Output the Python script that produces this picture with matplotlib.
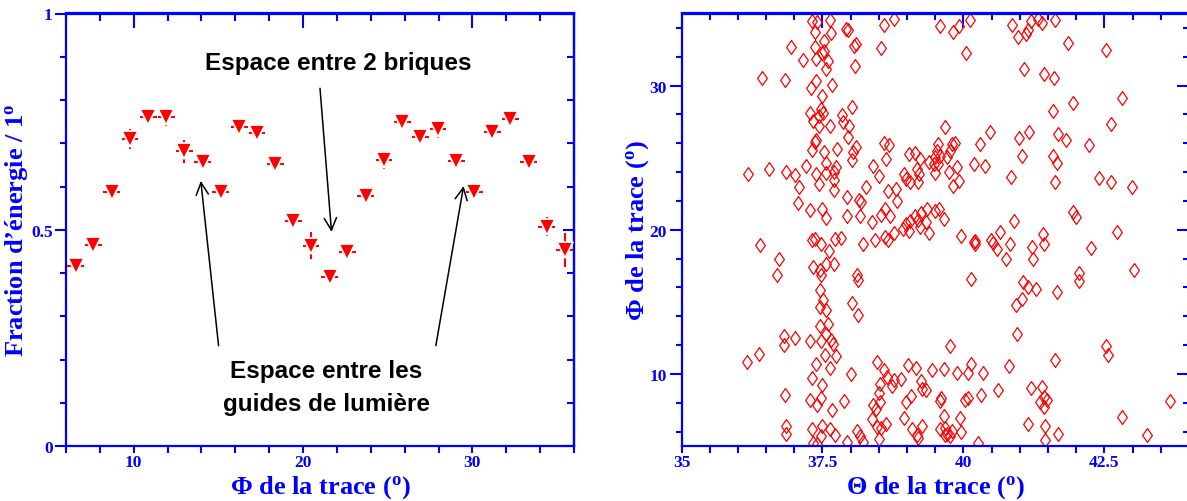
import matplotlib
matplotlib.use("Agg")
import matplotlib.pyplot as plt
from matplotlib.ticker import MultipleLocator, FixedLocator, FuncFormatter

plt.rcParams['mathtext.fontset'] = 'custom'
plt.rcParams['mathtext.rm'] = 'Liberation Serif:bold'
plt.rcParams['mathtext.bf'] = 'Liberation Serif:bold'
plt.rcParams['mathtext.it'] = 'Liberation Serif:bold'

# ---------------- data: left panel ----------------
phi_bins = [6.57, 7.61, 8.70, 9.78, 10.86, 11.91, 12.99, 14.07, 15.14, 16.22,
            17.28, 18.35, 19.43, 20.47, 21.58, 22.62, 23.70, 24.78, 25.85, 26.91,
            27.97, 29.05, 30.10, 31.18, 32.24, 33.33, 34.39, 35.46]
energy_frac = [0.416, 0.465, 0.588, 0.709, 0.761, 0.761, 0.681, 0.657, 0.588, 0.738,
               0.723, 0.653, 0.520, 0.463, 0.391, 0.449, 0.578, 0.661, 0.750, 0.714,
               0.732, 0.659, 0.587, 0.725, 0.757, 0.657, 0.507, 0.453]
energy_err = [0.012, 0.012, 0.015, 0.023, 0.017, 0.021, 0.026, 0.016, 0.015, 0.015,
              0.018, 0.020, 0.017, 0.031, 0.015, 0.013, 0.015, 0.021, 0.019, 0.019,
              0.020, 0.015, 0.014, 0.017, 0.016, 0.018, 0.022, 0.039]
phi_halfwidth = 0.5

# ---------------- data: right panel ----------------
theta_trace = [
    37.31, 37.40, 37.63, 37.37, 37.65, 37.92, 37.95, 38.59, 38.76,
    36.94, 37.36, 37.52, 37.53, 37.50, 38.06, 38.09, 38.53,
    37.15, 37.38, 37.59, 37.57, 38.07,
    36.43, 36.83, 37.30, 37.39, 37.67, 37.50,
    38.03, 37.28, 37.48, 37.44, 37.51, 37.34, 37.85, 37.87, 37.64, 37.44, 37.97, 37.96,
    37.38, 37.36, 37.32, 37.53, 37.76, 38.09, 38.05, 38.02,
    38.59, 38.68, 38.63, 39.04, 39.14, 39.23, 39.39,
    37.56, 37.74, 37.70, 37.20, 38.39, 38.50,
    36.18, 36.56, 36.85, 37.01, 37.38, 37.44, 37.57, 37.70, 37.71, 37.09,
    38.94, 38.99, 39.05, 39.18, 39.22, 39.19,
    38.27, 38.67, 38.80,
    37.06, 37.27, 37.50, 37.57, 37.93, 38.15, 38.18, 37.93, 38.17, 38.37, 38.53, 38.61, 38.70, 38.83,
    38.99, 39.05, 39.14, 39.20, 39.24, 39.35, 39.34,
    39.59, 39.81, 39.93, 40.11, 40.05, 40.86, 40.97, 41.11, 41.15, 41.20, 41.32, 41.39, 41.63, 41.86, 42.52,
    41.07, 41.42, 41.60, 41.95, 42.82, 41.59, 42.62,
    39.68, 40.47, 40.98, 41.16, 41.67, 41.82, 42.22, 40.30,
    39.55, 39.53, 39.49, 39.59, 39.71, 39.80, 39.85, 39.77, 39.47, 39.55, 39.74, 39.88, 39.49, 39.81, 39.93,
    40.18, 40.39, 40.85, 41.03, 41.58, 41.66, 41.62, 42.40, 42.61, 42.99,
    39.49, 39.57, 39.65, 40.89, 41.94, 41.99,
    36.40, 36.73, 36.70, 37.32, 37.37, 37.47, 37.62, 37.72, 37.83, 38.22, 38.44, 38.61, 38.67, 38.76, 38.93, 39.04, 39.23, 39.39,
    37.33, 37.46, 37.47, 37.56, 37.71, 38.12, 38.13,
    37.46, 37.51, 37.46, 37.56, 38.03, 38.13,
    37.46, 37.60, 37.56, 37.66, 37.69, 37.47, 37.28, 36.82, 36.81, 37.01,
    36.16, 36.37, 37.55, 37.74, 37.38, 37.64, 38.01, 37.31, 37.49, 37.47, 37.40, 37.28, 37.67, 37.88, 36.84,
    38.46, 38.59, 38.64, 38.52, 38.73, 38.77, 38.89, 38.51, 38.40, 38.45, 38.52,
    39.02, 39.16, 39.45, 39.24, 39.27, 39.34, 39.07, 38.99, 38.95,
    38.38, 38.46, 38.54, 38.62, 38.51, 39.26, 39.09, 39.17, 39.20,
    36.86, 36.85, 37.31, 37.50, 37.47, 37.34, 37.40, 37.63, 37.73, 37.93, 38.12, 38.16, 38.22,
    39.95, 40.20, 40.21, 40.19, 40.49, 40.52, 40.65, 40.59, 40.82, 40.76, 41.21, 41.24, 41.41, 41.43, 42.27, 42.72,
    40.14, 41.05, 41.15, 41.29, 41.66, 42.05, 42.05, 43.03, 40.94, 41.04, 40.95, 39.77, 42.53, 42.57,
    39.65, 39.88, 40.08, 40.13, 40.34, 40.81, 41.62,
    39.61, 39.59, 40.02, 40.08, 40.32, 40.61, 41.20, 41.39, 41.42, 41.48, 41.36, 41.42, 43.67,
    39.65, 39.94, 42.82,
    39.59, 39.67, 39.71, 39.77, 39.68, 39.80, 39.96,
    40.26, 41.15, 41.45, 41.45, 41.67, 43.26,
]
phi_trace = [
    34.51, 34.39, 34.56, 33.75, 33.65, 33.93, 33.89, 34.23, 34.63,
    32.66, 32.66, 33.12, 32.43, 32.27, 32.73, 32.89, 32.59,
    31.80, 31.85, 31.73, 31.16, 31.39,
    30.53, 30.39, 29.84, 30.30, 30.02, 29.26,
    28.50, 28.10, 28.38, 27.87, 28.10, 27.57, 27.96, 27.45, 27.18, 27.22, 27.18, 26.46,
    26.25, 26.07, 25.56, 25.37, 25.60, 25.72, 25.42, 24.84,
    26.02, 25.88, 24.91, 25.26, 25.33, 24.91, 24.73,
    24.61, 24.33, 23.98, 24.45, 24.40, 23.75,
    23.89, 24.22, 23.98, 23.80, 23.89, 23.18, 23.92, 23.48, 22.78, 22.99,
    23.87, 23.52, 23.29, 24.22, 23.87, 23.34,
    22.94, 22.71, 22.83,
    21.86, 21.35, 21.44, 20.79, 22.25, 22.09, 21.90, 20.98, 20.98, 20.52, 21.02, 21.44, 20.98, 22.02,
    20.40, 20.63, 20.98, 20.70, 21.16, 21.44, 20.52,
    34.12, 33.70, 34.16, 34.58, 32.24, 34.21, 33.35, 33.58, 33.89, 34.51, 34.63, 34.35, 34.58, 32.94, 32.50,
    31.18, 30.79, 30.51, 28.82, 29.12, 28.24, 27.34,
    27.13, 26.81, 26.39, 26.76, 26.62, 26.23, 25.88, 25.93,
    25.97, 25.49, 25.03, 25.14, 25.03, 25.95, 26.02, 25.49, 24.56, 24.56, 24.03, 24.33, 23.94, 23.06, 23.41,
    24.56, 24.40, 23.68, 25.10, 25.10, 24.63, 23.29, 23.57, 23.34, 22.99,
    21.32, 21.44, 20.75, 20.63, 21.21, 20.86,
    18.96, 17.99, 16.88, 19.26, 19.38, 19.03, 18.52, 19.38, 19.43, 18.99, 19.26, 19.50, 19.26, 19.77, 20.07, 19.91, 20.19, 19.77,
    17.41, 17.18, 16.88, 17.65, 17.65, 16.88, 16.49,
    15.79, 15.15, 14.64, 14.41, 14.92, 14.11,
    13.30, 13.48, 12.79, 12.33, 12.09, 12.28, 12.28, 12.65, 12.03, 12.49,
    10.82, 11.35, 11.28, 11.22, 10.71, 10.43, 10.01, 9.73, 9.20, 8.35, 7.86, 8.16, 7.47, 8.09, 8.55,
    10.82, 10.24, 9.78, 9.32, 9.13, 9.60, 9.62, 8.69, 7.81, 7.58, 8.05,
    10.59, 10.43, 10.24, 9.50, 8.97, 8.86, 8.44, 8.05, 6.96,
    6.89, 6.31, 6.24, 6.54, 5.50, 6.38, 6.20, 5.73, 5.57,
    6.38, 5.85, 6.20, 6.38, 5.66, 5.20, 5.15, 6.15, 5.73, 5.27, 6.03, 5.66, 5.27,
    19.54, 19.22, 19.03, 19.13, 19.31, 19.08, 19.84, 18.69, 18.99, 17.99, 18.80, 17.95, 19.68, 19.03, 18.76, 19.82,
    16.60, 16.37, 16.03, 15.87, 15.68, 17.02, 16.42, 17.23, 14.80, 15.17, 12.74, 11.91, 11.91, 11.28,
    10.36, 10.06, 10.08, 10.66, 10.08, 10.52, 10.98,
    8.35, 8.12, 8.16, 8.35, 8.55, 8.90, 9.02, 9.09, 8.39, 8.16, 8.05, 7.70, 8.09,
    7.05, 6.96, 6.98,
    6.15, 6.24, 5.85, 5.66, 5.73, 6.03, 5.96,
    5.20, 6.50, 6.36, 5.43, 5.85, 5.73,
]

left_xticks = [10, 20, 30]
left_yticks = [0, 0.5, 1]
right_xticks = [35, 37.5, 40, 42.5]
right_yticks = [10, 20, 30]

BLUE = '#0000ff'
RED = '#ff0000'
SERIF = 'Liberation Serif'
SANS = 'Liberation Sans'

fig = plt.figure(figsize=(11.87, 5.02), dpi=100)
W, H = 1187.0, 502.0
ax1 = fig.add_axes([66 / W, (H - 447) / H, 508 / W, 432.5 / H])
ax2 = fig.add_axes([681.5 / W, (H - 447) / H, 507.5 / W, 432.5 / H])

fmt = FuncFormatter(lambda v, p: ('%g' % v))


def style_axes(ax, xmaj, ymaj, xmin, ymin, xlim, ylim,
               bot_len, left_len, left_min, top_len, top_min, right_len, right_min):
    ax.set_xlim(*xlim)
    ax.set_ylim(*ylim)
    for s in ax.spines.values():
        s.set_color(BLUE)
        s.set_linewidth(1.6)
    ax.xaxis.set_major_locator(FixedLocator(xmaj))
    ax.xaxis.set_minor_locator(MultipleLocator(xmin))
    ax.yaxis.set_major_locator(FixedLocator(ymaj))
    ax.yaxis.set_minor_locator(MultipleLocator(ymin))
    ax.xaxis.set_major_formatter(fmt)
    ax.yaxis.set_major_formatter(fmt)
    ax.tick_params(axis='x', which='both', direction='out', color=BLUE, width=1.5,
                   top=False, labelcolor=BLUE, pad=0.5, labelsize=12.5)
    ax.tick_params(axis='x', which='major', length=bot_len)
    ax.tick_params(axis='x', which='minor', length=bot_len)
    ax.tick_params(axis='y', which='both', direction='out', color=BLUE, width=1.5,
                   right=False, labelcolor=BLUE, pad=1.5, labelsize=12.5)
    ax.tick_params(axis='y', which='major', length=left_len)
    ax.tick_params(axis='y', which='minor', length=left_min)
    for lab in ax.get_xticklabels() + ax.get_yticklabels():
        lab.set_fontfamily(SERIF)
        lab.set_fontweight('bold')
    # top ticks (inward)
    sx = ax.secondary_xaxis('top')
    sx.xaxis.set_major_locator(FixedLocator(xmaj))
    sx.xaxis.set_minor_locator(MultipleLocator(xmin))
    sx.tick_params(axis='x', which='both', direction='in', color=BLUE, width=1.5,
                   labeltop=False)
    sx.tick_params(axis='x', which='major', length=top_len)
    sx.tick_params(axis='x', which='minor', length=top_min)
    for s in sx.spines.values():
        s.set_color(BLUE)
        s.set_linewidth(1.6)
    # right ticks (inward)
    sy = ax.secondary_yaxis('right')
    sy.yaxis.set_major_locator(FixedLocator(ymaj))
    sy.yaxis.set_minor_locator(MultipleLocator(ymin))
    sy.tick_params(axis='y', which='both', direction='in', color=BLUE, width=1.5,
                   labelright=False)
    sy.tick_params(axis='y', which='major', length=right_len)
    sy.tick_params(axis='y', which='minor', length=right_min)
    for s in sy.spines.values():
        s.set_color(BLUE)
        s.set_linewidth(1.6)


label_font = dict(family=SERIF, weight='bold', size=19, color=BLUE)

# ---------------- left panel ----------------
style_axes(ax1, left_xticks, left_yticks, 2, 0.1, (6, 36), (0, 1),
           bot_len=5, left_len=8, left_min=4, top_len=11, top_min=5.5,
           right_len=8, right_min=5)
ax1.errorbar(phi_bins, energy_frac, yerr=energy_err, xerr=phi_halfwidth,
             fmt='none', ecolor=RED, elinewidth=1.5, capsize=0, zorder=2)
ax1.plot(phi_bins, energy_frac, linestyle='none', marker='v', markersize=11,
         markerfacecolor=RED, markeredgecolor='white', markeredgewidth=1.3, zorder=3)
ax1.set_xlabel('Φ de la trace ($\\mathrm{^o}$)', labelpad=2.5, **label_font)
ax1.set_ylabel('Fraction d’énergie / 1$\\mathrm{^o}$', labelpad=0.5, **label_font)

ann_font = dict(family=SANS, weight='bold', size=17.5, color='black')
ax1.text(22.07, 0.887, 'Espace entre 2 briques', ha='center', va='center', **ann_font)
ax1.text(21.36, 0.137, 'Espace entre les\nguides de lumière', ha='center', va='center',
         linespacing=1.55, **ann_font)
arrow = dict(arrowstyle='->', color='black', lw=1.1, mutation_scale=22, shrinkA=0, shrinkB=0)
ax1.annotate('', xy=(21.68, 0.495), xytext=(21.0, 0.827), arrowprops=arrow)
ax1.annotate('', xy=(13.96, 0.613), xytext=(15.01, 0.232), arrowprops=arrow)
ax1.annotate('', xy=(29.48, 0.601), xytext=(27.84, 0.232), arrowprops=arrow)

# ---------------- right panel ----------------
style_axes(ax2, right_xticks, right_yticks, 0.5, 2, (35, 44), (5, 35),
           bot_len=5, left_len=9, left_min=4.5, top_len=11, top_min=5,
           right_len=9, right_min=4)
diamond = [(0, 1), (0.7, 0), (0, -1), (-0.7, 0), (0, 1)]
ax2.plot(theta_trace, phi_trace, linestyle='none', marker=diamond, markersize=10,
         markerfacecolor='none', markeredgecolor=RED, markeredgewidth=0.9)
ax2.set_xlabel('Θ de la trace ($\\mathrm{^o}$)', labelpad=2.5, **label_font)
ax2.set_ylabel('Φ de la trace ($\\mathrm{^o}$)', labelpad=-1, **label_font)

fig.savefig('out.png', dpi=100)
